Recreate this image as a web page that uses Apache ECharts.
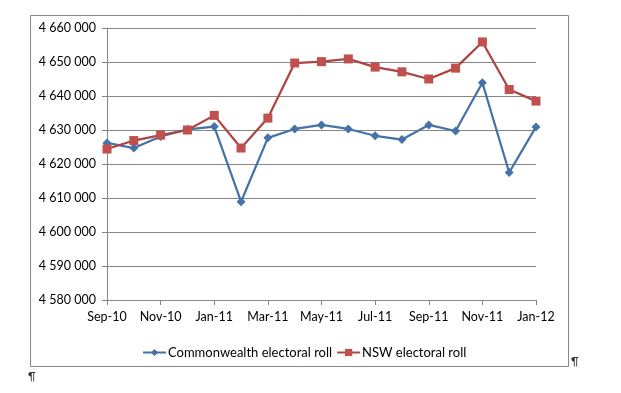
<!DOCTYPE html>
<html>
<head>
<meta charset="utf-8">
<script src="https://cdn.jsdelivr.net/npm/echarts@6/dist/echarts.min.js"></script>
<style>
html,body{margin:0;padding:0;background:#fff;}
#chart{width:621px;height:393px;}
</style>
</head>
<body>
<div id="chart"></div>
<script>
var categories = ['Sep-10','Oct-10','Nov-10','Dec-10','Jan-11','Feb-11','Mar-11','Apr-11','May-11','Jun-11','Jul-11','Aug-11','Sep-11','Oct-11','Nov-11','Dec-11','Jan-12'];
var commonwealth = [4626200,4624700,4628100,4630200,4631000,4608900,4627700,4630300,4631500,4630300,4628300,4627200,4631500,4629700,4643900,4617500,4630900];
var nsw = [4624400,4626900,4628500,4630000,4634300,4624700,4633500,4649700,4650100,4650900,4648500,4647100,4645000,4648200,4655900,4641900,4638500];
var seriesNames = ['Commonwealth electoral roll','NSW electoral roll'];

var chart = echarts.init(document.getElementById('chart'), null, {renderer:'canvas'});
var font = 'Lato, "Open Sans", "Liberation Sans", sans-serif';
function fmt(v){ return String(v).replace(/\B(?=(\d{3})+(?!\d))/g,' '); }

chart.setOption({
  animation:false,
  backgroundColor:'#ffffff',
  textStyle:{fontFamily:font},
  grid:{left:107, right:85, top:28, bottom:93, containLabel:false},
  legend:{
    data:seriesNames,
    left:142, top:346,
    itemWidth:23, itemHeight:9, itemGap:4,
    textStyle:{fontFamily:font, fontSize:13, color:'#000', padding:[0,0,0,-3]},
    padding:0
  },
  xAxis:{
    type:'category',
    data:categories,
    boundaryGap:false,
    axisLine:{lineStyle:{color:'#868686', width:1}},
    axisTick:{show:true, interval:1, length:5, lineStyle:{color:'#868686'}},
    axisLabel:{interval:1, color:'#000', fontSize:12.5, fontFamily:font, margin:10},
    splitLine:{show:false}
  },
  yAxis:{
    type:'value',
    min:4580000, max:4660000, interval:10000,
    axisLine:{show:true, lineStyle:{color:'#868686', width:1}},
    axisTick:{show:true, length:5, lineStyle:{color:'#868686'}},
    axisLabel:{formatter:fmt, color:'#000', fontSize:12.5, fontFamily:font, margin:11},
    splitLine:{show:true, lineStyle:{color:'#868686', width:1}}
  },
  series:[
    {
      name:seriesNames[0], type:'line', data:commonwealth,
      symbol:'diamond', symbolSize:9,
      lineStyle:{color:'#4572A7', width:2.25},
      itemStyle:{color:'#4572A7'}
    },
    {
      name:seriesNames[1], type:'line', data:nsw,
      symbol:'rect', symbolSize:9,
      lineStyle:{color:'#AA4643', width:2.25},
      itemStyle:{color:'#C0504D'}
    }
  ],
  graphic:[
    {type:'rect', shape:{x:30.5, y:15.5, width:538, height:351}, style:{fill:null, stroke:'#868686', lineWidth:1}, silent:true, z:-1},
    {type:'text', left:571, top:356, style:{text:'¶', fontSize:11, fill:'#333', fontFamily:font}},
    {type:'text', left:28, top:371, style:{text:'¶', fontSize:11, fill:'#333', fontFamily:font}}
  ]
});
</script>
</body>
</html>
